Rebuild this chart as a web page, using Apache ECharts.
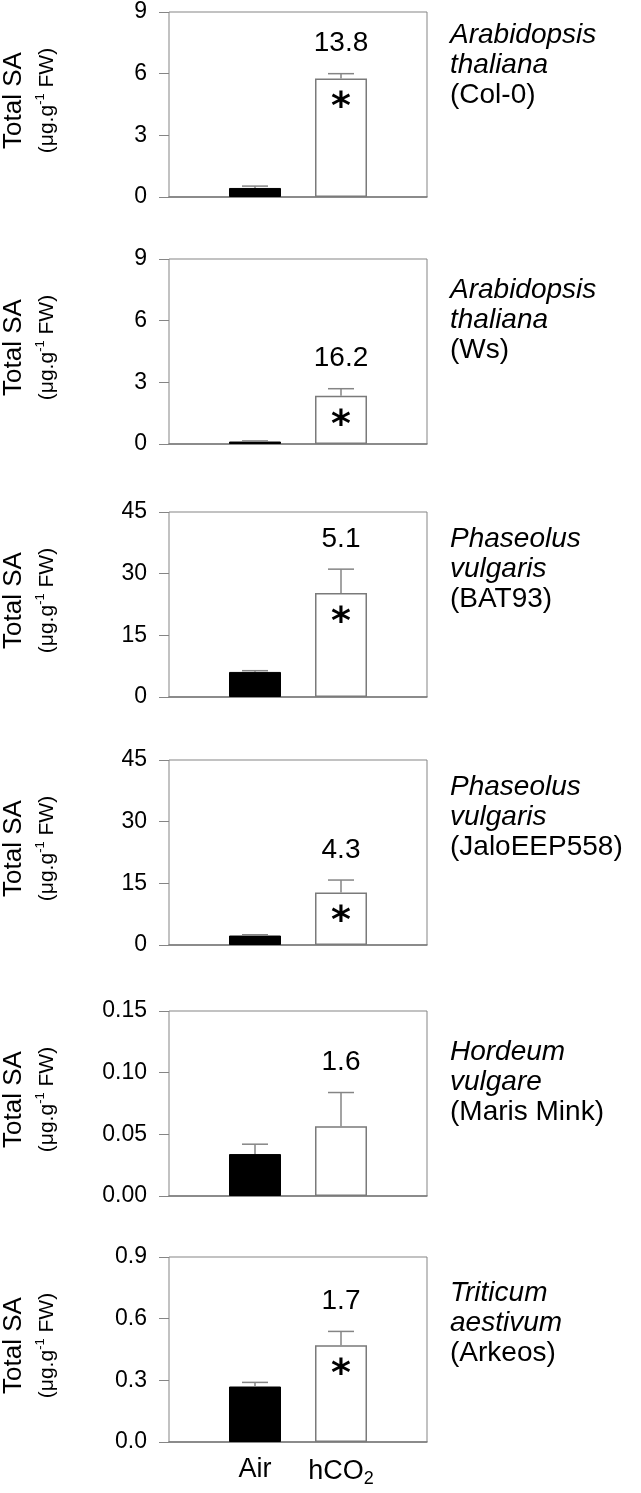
<!DOCTYPE html>
<html>
<head>
<meta charset="utf-8">
<script src="https://cdn.jsdelivr.net/npm/echarts@6/dist/echarts.min.js"></script>
<style>
  html, body { margin: 0; padding: 0; background: #fff; }
  #chart { width: 641px; height: 1493px; }
</style>
</head>
<body>
<div id="chart"></div>
<script>
// data
const categories = ["", "Air", "hCO2", ""];
const genus = ["Arabidopsis", "Arabidopsis", "Phaseolus", "Phaseolus", "Hordeum", "Triticum"];
const epithet = ["thaliana", "thaliana", "vulgaris", "vulgaris", "vulgare", "aestivum"];
const cultivar = ["(Col-0)", "(Ws)", "(BAT93)", "(JaloEEP558)", "(Maris Mink)", "(Arkeos)"];
const airMean = [0.44, 0.12, 6.1, 2.3, 0.034, 0.27];
const airSE = [0.09, 0.03, 0.3, 0.2, 0.008, 0.02];
const hco2Mean = [5.77, 2.35, 25.3, 12.8, 0.0565, 0.471];
const hco2SE = [0.23, 0.34, 5.8, 3.0, 0.0274, 0.067];
const foldChange = ["13.8", "16.2", "5.1", "4.3", "1.6", "1.7"];
const significant = [true, true, true, true, false, true];
const yMax = [9, 9, 45, 45, 0.15, 0.9];
const yStep = [3, 3, 15, 15, 0.05, 0.3];
const yDecimals = [0, 0, 0, 0, 2, 1];

// layout
const panelTop = [12, 259, 512, 760, 1011, 1257];
const panelH = 185;
const panelLeft = 169;
const panelW = 258;
const titleDy = [23, 31, 27, 27, 41, 36];

const FONT = "Liberation Sans";
const GREY = "#858585";

let chart = echarts.init(document.getElementById("chart"));

let grids = [], xAxes = [], yAxes = [], series = [], graphics = [];

for (let i = 0; i < 6; i++) {
  const last = i === 5;
  grids.push({
    left: panelLeft, top: panelTop[i], width: panelW, height: panelH,
    show: true, borderColor: GREY, borderWidth: 1, backgroundColor: "transparent"
  });
  xAxes.push({
    type: "category", gridIndex: i, data: categories, boundaryGap: false,
    axisLine: { show: true, lineStyle: { color: "#7a7a7a", width: 1.5 } },
    axisTick: { show: false },
    splitLine: { show: false },
    axisLabel: {
      show: last, interval: 0, margin: 14, color: "#000", fontFamily: FONT, fontSize: 27,
      formatter: function (v) {
        if (v === "hCO2") return "hCO{sub|2}";
        return v;
      },
      rich: {
        sub: { fontSize: 18, fontFamily: FONT, color: "#000", padding: [14, 0, 0, 0] }
      }
    }
  });
  yAxes.push({
    type: "value", gridIndex: i, min: 0, max: yMax[i], interval: yStep[i],
    axisLine: { show: false },
    axisTick: { show: true, inside: false, length: 10, lineStyle: { color: GREY } },
    splitLine: { show: false },
    axisLabel: {
      margin: 22, color: "#000", fontFamily: FONT, fontSize: 23,
      formatter: function (v) { return v.toFixed(yDecimals[i]); }
    }
  });

  // bars
  series.push({
    type: "bar", xAxisIndex: i, yAxisIndex: i, barWidth: 52,
    data: [
      "-",
      { value: airMean[i], itemStyle: { color: "#000", borderColor: "#000", borderWidth: 1 } },
      { value: hco2Mean[i], itemStyle: { color: "#fff", borderColor: "#7a7a7a", borderWidth: 1.5 } },
      "-"
    ],
    silent: true, z: 2
  });

  // error bars + fold change text + asterisk
  series.push({
    type: "custom", xAxisIndex: i, yAxisIndex: i, silent: true, z: 3,
    data: [
      [1, airMean[i], airMean[i] + airSE[i]],
      [2, hco2Mean[i], hco2Mean[i] + hco2SE[i]]
    ],
    renderItem: function (params, api) {
      const x = api.value(0);
      const base = api.coord([x, api.value(1)]);
      const top = api.coord([x, api.value(2)]);
      const line = { stroke: GREY, lineWidth: 1.5 };
      let children = [
        { type: "line", shape: { x1: base[0], y1: base[1], x2: top[0], y2: top[1] }, style: line },
        { type: "line", shape: { x1: top[0] - 13, y1: top[1], x2: top[0] + 13, y2: top[1] }, style: line }
      ];
      if (x === 2) {
        children.push({
          type: "text", x: top[0], y: top[1] - 30,
          style: { text: foldChange[i], fill: "#000", font: "28px 'Liberation Sans'", align: "center", verticalAlign: "middle" }
        });
        if (significant[i]) {
          children.push({
            type: "text", x: base[0], y: base[1] + 30,
            style: { text: "*", fill: "#000", font: "bold 38px 'DejaVu Sans'", align: "center", verticalAlign: "middle" }
          });
        }
      }
      return { type: "group", children: children };
    }
  });

  // species name on the right
  graphics.push({
    type: "text", x: 450, y: panelTop[i] + titleDy[i] - 15,
    style: {
      text: "{i|" + genus[i] + "}\n{i|" + epithet[i] + "}\n{n|" + cultivar[i] + "}",
      align: "left", verticalAlign: "top",
      rich: {
        i: { fontFamily: FONT, fontStyle: "italic", fontSize: 28, lineHeight: 30, fill: "#000" },
        n: { fontFamily: FONT, fontSize: 28, lineHeight: 30, fill: "#000" }
      }
    }
  });

  // y axis title, rotated
  const cy = panelTop[i] + panelH / 2 - 4;
  graphics.push({
    type: "text", x: 14, y: cy, rotation: Math.PI / 2,
    style: {
      text: "{a|Total SA}", align: "center", verticalAlign: "middle",
      rich: { a: { fontFamily: FONT, fontSize: 26, lineHeight: 28, fill: "#000" } }
    }
  });
  graphics.push({
    type: "text", x: 46, y: cy, rotation: Math.PI / 2,
    style: {
      text: "{b|(μg.g}{sup|-1}{b| FW)}", align: "center", verticalAlign: "middle",
      rich: {
        b: { fontFamily: FONT, fontSize: 21, lineHeight: 24, fill: "#000", verticalAlign: "bottom" },
        sup: { fontFamily: FONT, fontSize: 13, lineHeight: 24, fill: "#000", verticalAlign: "top" }
      }
    }
  });
}

chart.setOption({
  animation: false,
  backgroundColor: "#fff",
  grid: grids,
  xAxis: xAxes,
  yAxis: yAxes,
  series: series,
  graphic: graphics
});

window.onresize = function () {
  chart.resize();
};
</script>
</body>
</html>
